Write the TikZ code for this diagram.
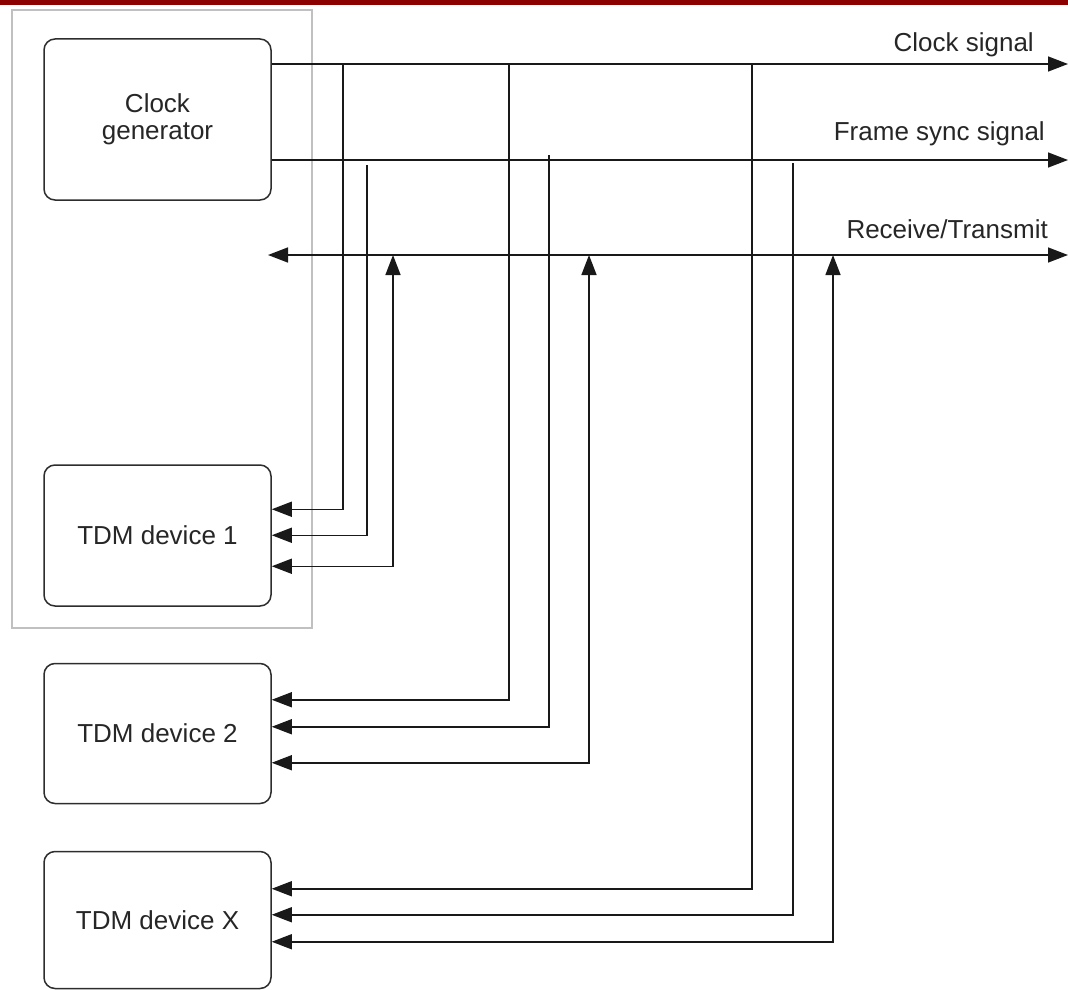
\documentclass[tikz,border=0pt]{standalone}
\usepackage{fontspec}
\setmainfont{Liberation Sans}
\usepackage{tikz}
\usetikzlibrary{arrows.meta,positioning,calc}
\definecolor{topred}{RGB}{139,0,0}
\definecolor{groupgray}{RGB}{192,192,192}
\definecolor{linegray}{RGB}{45,45,45}
\tikzset{
  blk/.style={rectangle,rounded corners=11pt,
    draw=linegray,line width=1.5pt,
    minimum width=227pt,align=center,
    inner sep=0pt,text=black!85,
    font=\fontsize{26}{27}\selectfont},
  devbox/.style={blk,minimum height=140pt},
  siglbl/.style={inner sep=0pt,anchor=base east,text=black!85,
    font=\fontsize{26}{27}\selectfont},
  sig/.style={draw=black!90,line width=1.5pt},
  arr/.style={sig,-{Triangle[length=20pt,width=15pt]}},
  arr2/.style={sig,{Triangle[length=20pt,width=15pt]}-{Triangle[length=20pt,width=15pt]}},
}
\begin{document}
\begin{tikzpicture}[x=1pt,y=-1pt]
  \useasboundingbox (0,0) rectangle (1068,990);
  \fill[topred] (0,0) rectangle (1068,5);

  % --- Blocks ---
  \node (gen)  [blk,minimum height=161pt] at (157.5,119.5) {Clock\\generator};
  \node (dev1) [devbox,minimum height=141pt,below=263.5pt of gen] {TDM device 1};
  \node (dev2) [devbox,below=56pt of dev1] {TDM device 2};
  \node (devx) [devbox,minimum height=137pt,below=46.5pt of dev2] {TDM device X};

  % frame round generator and device 1
  \draw[groupgray,line width=2pt] (12,10) rectangle (312,628);

  % --- Bus labels ---
  \node (clklbl) [siglbl] at (1034,52)  {Clock signal};
  \node (fslbl)  [siglbl] at (1045,140) {Frame sync signal};
  \node (rxlbl)  [siglbl] at (1048,238) {Receive/Transmit};

  % --- Bus lines ---
  \coordinate (clkend) at (1068,64);
  \coordinate (fsend)  at (1068,160);
  \coordinate (rxbeg)  at (268,255);
  \coordinate (rxend)  at (1068,255);
  \draw[arr]  (gen.east |- clkend) -- (clkend);
  \draw[arr]  (gen.east |- fsend) -- (fsend);
  \draw[arr2] (rxbeg) -- (rxend);

  % --- Taps (clock / frame sync / data) ---
  \coordinate (c1) at (343,64);
  \coordinate (c2) at (509,64);
  \coordinate (cx) at (752,64);
  \coordinate (f1) at (367,165);
  \coordinate (f2) at (549,155);
  \coordinate (fx) at (793,163);
  \coordinate (r1) at (393,255);
  \coordinate (r2) at (589,255);
  \coordinate (rx) at (833,255);

  % device 1
  \draw[arr]  (c1) |- ($(dev1.north east)+(0,45)$);
  \draw[arr]  (f1) |- ($(dev1.north east)+(0,71)$);
  \draw[arr2] (r1) |- ($(dev1.north east)+(0,102)$);
  % device 2
  \draw[arr]  (c2) |- ($(dev2.north east)+(0,37)$);
  \draw[arr]  (f2) |- ($(dev2.north east)+(0,64)$);
  \draw[arr2] (r2) |- ($(dev2.north east)+(0,100)$);
  % device X
  \draw[arr]  (cx) |- ($(devx.north east)+(0,38)$);
  \draw[arr]  (fx) |- ($(devx.north east)+(0,64)$);
  \draw[arr2] (rx) |- ($(devx.north east)+(0,91)$);
\end{tikzpicture}
\end{document}
